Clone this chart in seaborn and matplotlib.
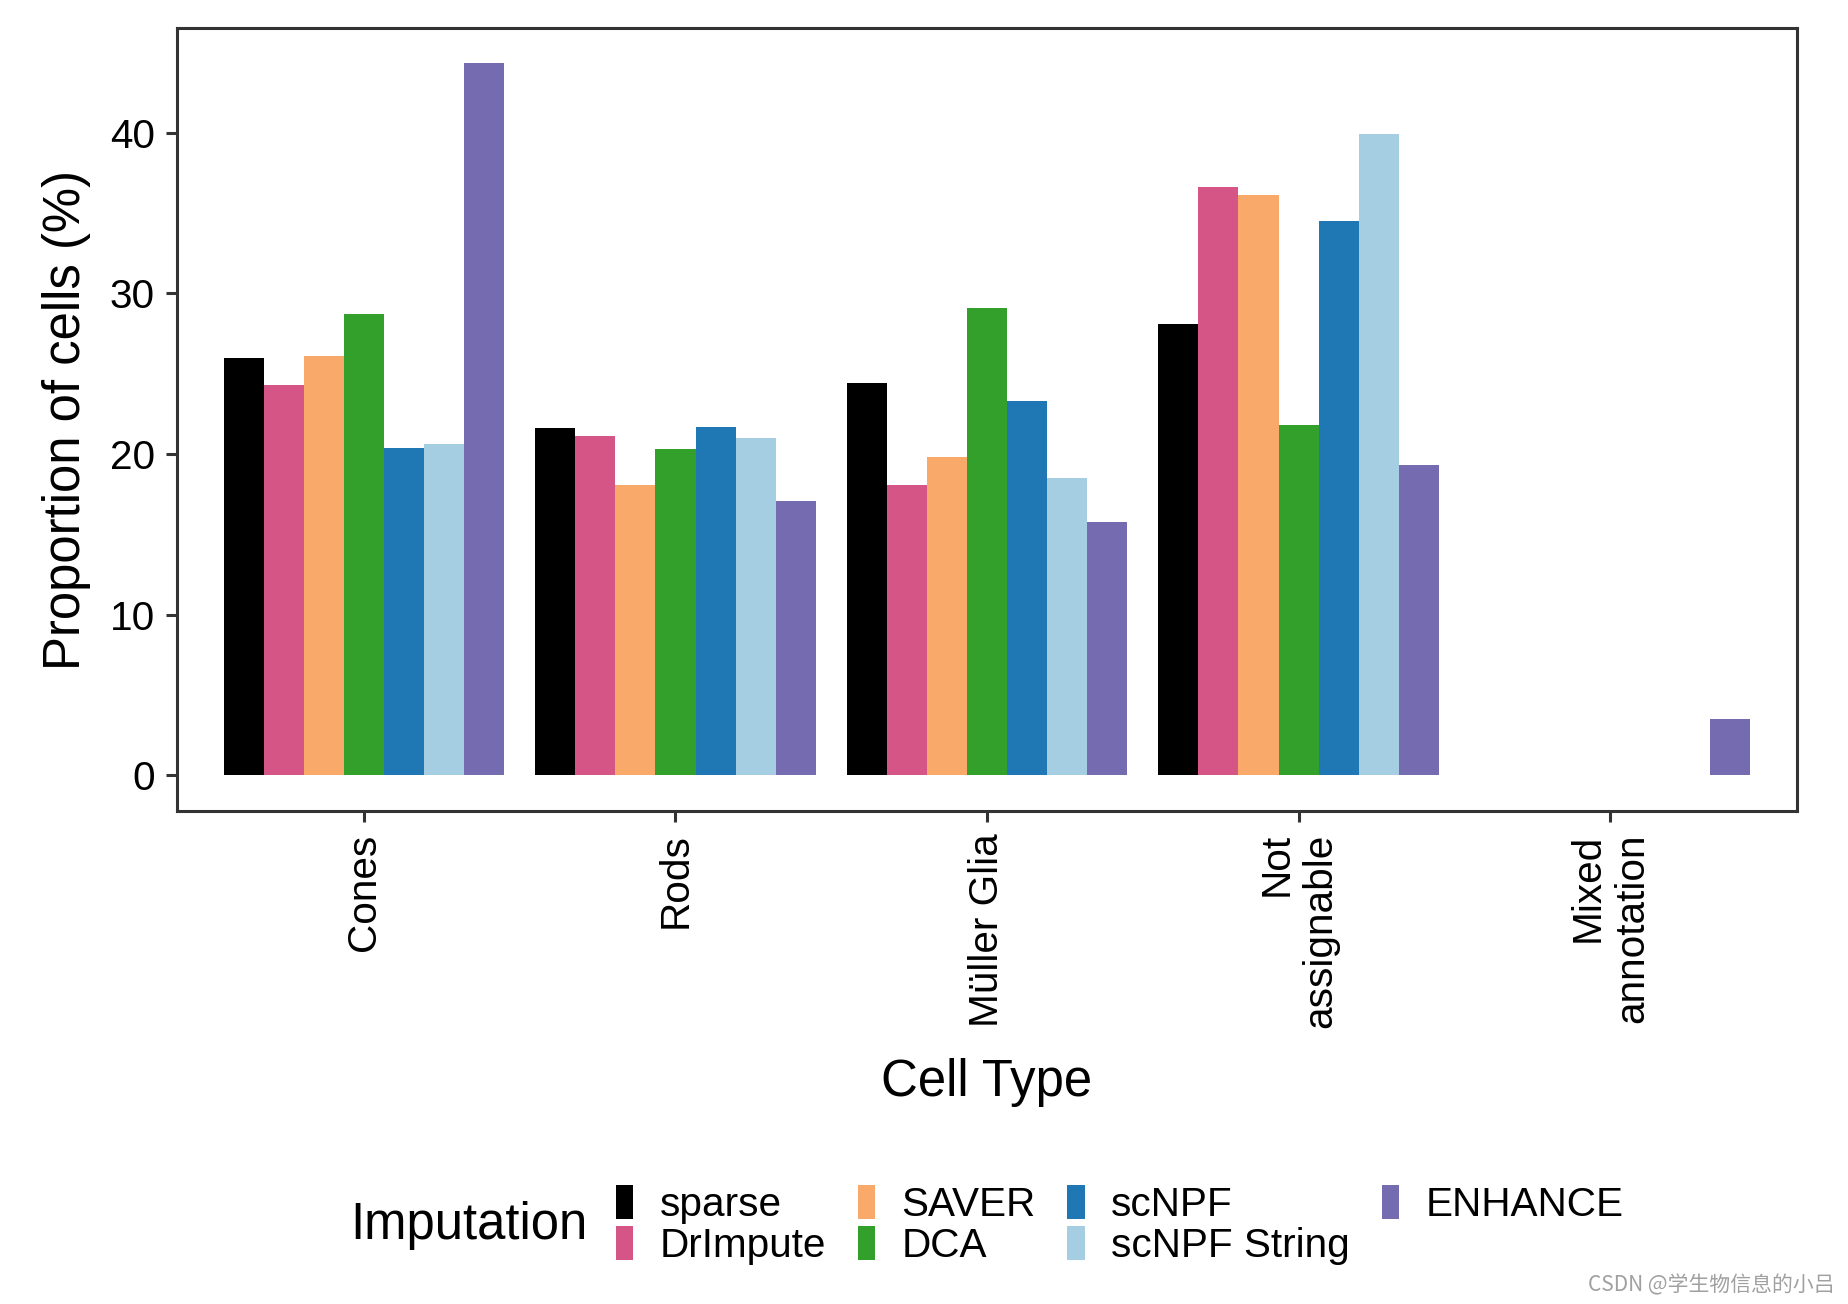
import matplotlib
matplotlib.use("Agg")
import matplotlib.pyplot as plt
import seaborn as sns
import pandas as pd

# ---- data ----
categories = ["Cones", "Rods", "Müller Glia", "Not\nassignable", "Mixed\nannotation"]
methods = ["sparse", "DrImpute", "SAVER", "DCA", "scNPF", "scNPF String", "ENHANCE"]
sparse = [26.0, 21.6, 24.4, 28.1, 0.0]
drimpute = [24.3, 21.1, 18.1, 36.6, 0.0]
saver = [26.1, 18.1, 19.8, 36.1, 0.0]
dca = [28.7, 20.3, 29.1, 21.8, 0.0]
scnpf = [20.4, 21.7, 23.3, 34.5, 0.0]
scnpf_string = [20.6, 21.0, 18.5, 39.9, 0.0]
enhance = [44.3, 17.1, 15.8, 19.3, 3.5]
yticks = [0, 10, 20, 30, 40]
colors = ["#000000", "#D55587", "#F9AA6B", "#33A02C", "#1F78B4", "#A6CEE3", "#756BB1"]

series = [sparse, drimpute, saver, dca, scnpf, scnpf_string, enhance]
rows = []
for m, vals in zip(methods, series):
    for c, v in zip(categories, vals):
        rows.append({"Cell Type": c, "Proportion": v, "Imputation": m})
df = pd.DataFrame(rows)

sns.set_style("white")
plt.rcParams["font.family"] = ["Liberation Sans", "DejaVu Sans"]
plt.rcParams["text.color"] = "black"
plt.rcParams["axes.labelcolor"] = "black"

fig = plt.figure(figsize=(9.24, 6.52), dpi=200)
ax = fig.add_axes([0.0958, 0.378, 0.8766, 0.6005])

sns.barplot(data=df, x="Cell Type", y="Proportion", hue="Imputation",
            order=categories, hue_order=methods, palette=colors,
            width=0.9, saturation=1, linewidth=0, ax=ax)

handles, labels = ax.get_legend_handles_labels()
if ax.get_legend() is not None:
    ax.get_legend().remove()

ax.set_xlim(-0.6, 4.6)
ax.set_ylim(-2.215, 46.5)
ax.set_yticks(yticks)
ax.set_yticklabels([str(t) for t in yticks])
ax.set_xticks(range(len(categories)))
ax.set_xticklabels(categories, rotation=90, ha="center", va="top", multialignment="right")

for s in ax.spines.values():
    s.set_visible(True)
    s.set_color("#333333")
    s.set_linewidth(1.1)

ax.tick_params(axis="both", which="major", direction="out", length=4, width=1.1,
               color="#333333", labelsize=14.6, pad=4, bottom=True, left=True,
               labelcolor="black")
ax.grid(False)

ax.set_xlabel("Cell Type", fontsize=18.3, va="center", color="black")
ax.xaxis.set_label_coords(0.5, -0.346)
ax.set_ylabel("Proportion of cells (%)", fontsize=18.3, va="center", color="black")
ax.yaxis.set_label_coords(-0.068, 0.5)

fig.text(350 / 1848, 1 - 1226 / 1304, "Imputation", fontsize=18.3, ha="left", va="center",
         color="black")
fig.legend(handles, labels, loc="center left",
           bbox_to_anchor=(616 / 1848, 1 - 1225 / 1304),
           ncol=4, frameon=False, fontsize=14.6, borderpad=0, borderaxespad=0,
           handlelength=0.42, handleheight=0.93, handletextpad=0.66,
           columnspacing=0.78, labelspacing=0.05, labelcolor="black")

fig.text(0.993, 1 - 1285 / 1304, "CSDN @学生物信息的小吕", ha="right", va="center",
         fontsize=7.5, color="#a0a0a0", family=["Noto Sans CJK SC", "DejaVu Sans"])

fig.savefig("out.png", dpi=200)
